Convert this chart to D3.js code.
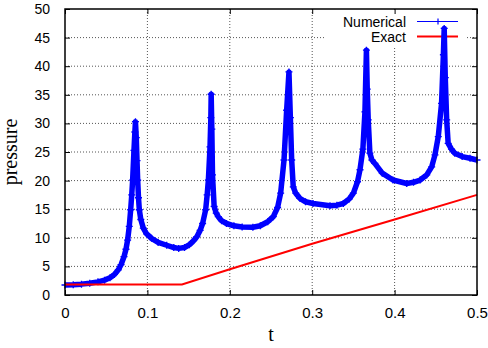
<!DOCTYPE html>
<html><head><meta charset="utf-8">
<script src="https://cdn.jsdelivr.net/npm/d3@7"></script>
<style>body{margin:0;background:#fff}svg{display:block}</style>
</head><body><svg id="c" width="488" height="348"></svg>
<script>
const numT = [0,0.01,0.02,0.03,0.04,0.048,0.0546,0.06,0.0647,0.068,0.0716,0.074,0.076,0.078,0.0797,0.081,0.0821,0.0837,0.0848,0.0855,0.0865,0.0874,0.0882,0.0892,0.0902,0.092,0.095,0.099,0.105,0.113,0.1234,0.132,0.138,0.145,0.151,0.156,0.160,0.164,0.167,0.1707,0.1725,0.174,0.176,0.177,0.1774,0.1782,0.1790,0.1810,0.1835,0.186,0.190,0.196,0.205,0.215,0.228,0.237,0.246,0.2528,0.258,0.2617,0.2658,0.269,0.2718,0.2735,0.2751,0.277,0.280,0.285,0.292,0.301,0.3216,0.330,0.3378,0.345,0.35,0.355,0.358,0.3615,0.364,0.3658,0.3668,0.368,0.370,0.3725,0.376,0.385,0.398,0.4147,0.423,0.431,0.439,0.445,0.449,0.453,0.457,0.4592,0.4602,0.4615,0.4632,0.465,0.469,0.473,0.482,0.4915,0.5];
const numP = [1.75,1.8,1.9,2.05,2.3,2.6,3.0,3.6,4.4,5.3,6.7,8.0,9.6,12,14.9,17.5,20.1,25.3,28.5,30.3,27.5,23.5,20.1,17.0,14.9,13.2,11.7,10.7,9.9,9.2,8.7,8.3,8.15,8.3,8.8,9.5,10.2,11.3,12.5,14.9,17.5,20.1,25.9,31,35.1,29,21,15.5,14.3,13.7,13.0,12.5,12.1,11.9,11.85,12.1,12.8,13.7,15.3,17.8,23.6,32.3,39.0,31,23.6,18.9,17.8,16.9,16.3,16.0,15.6,15.7,16.0,16.8,17.8,19.8,21.9,25.5,32,42.8,36,30.6,24.8,23.6,23.0,21.3,20.1,19.5,19.7,20.1,21.0,22.4,24.5,27.7,33.5,42,46.6,38,30.6,26.5,25.5,24.8,24.2,23.9,23.6];
const exT = [0,0.142,0.2,0.3,0.4,0.5];
const exP = [1.85,1.85,4.5,8.95,13.2,17.5];
const xTicks = [0,0.1,0.2,0.3,0.4,0.5];
const xTickLabels = ["0","0.1","0.2","0.3","0.4","0.5"];
const yTicks = [0,5,10,15,20,25,30,35,40,45,50];
const seriesNames = ["Numerical","Exact"];

const svg = d3.select("#c");
const L=65, R=477, T=9, B=295;
const x = d3.scaleLinear().domain([0,0.5]).range([L,R]);
const y = d3.scaleLinear().domain([0,50]).range([B,T]);

// grid
const g = svg.append("g");
g.selectAll(".gx").data(xTicks.slice(1,-1)).enter().append("line")
 .attr("x1",d=>x(d)).attr("x2",d=>x(d)).attr("y1",T).attr("y2",B)
 .attr("stroke","#555").attr("stroke-dasharray","1,2").attr("stroke-width",1);
g.selectAll(".gy").data(yTicks.slice(1,-1)).enter().append("line")
 .attr("x1",L).attr("x2",R).attr("y1",d=>y(d)).attr("y2",d=>y(d))
 .attr("stroke","#555").attr("stroke-dasharray","1,2").attr("stroke-width",1);

// legend background
svg.append("rect").attr("x",324).attr("y",10).attr("width",142).attr("height",36).attr("fill","#fff");

// axes via d3 axis (inward ticks)
const fontSans = "Liberation Sans, Arial, sans-serif";
const ax = svg.append("g").attr("transform",`translate(0,${B})`)
  .call(d3.axisBottom(x).tickValues(xTicks).tickFormat((d,i)=>xTickLabels[i]).tickSizeInner(-5).tickSizeOuter(0).tickPadding(12));
ax.select(".domain").remove();
ax.selectAll("text").attr("font-family",fontSans).attr("font-size",15).attr("fill","#000");
ax.selectAll("line").attr("stroke","#000");
const axT = svg.append("g").attr("transform",`translate(0,${T})`)
  .call(d3.axisTop(x).tickValues(xTicks).tickFormat("").tickSizeInner(-5).tickSizeOuter(0));
axT.select(".domain").remove();
const ay = svg.append("g").attr("transform",`translate(${L},0)`)
  .call(d3.axisLeft(y).tickValues(yTicks).tickSizeInner(-5).tickSizeOuter(0).tickPadding(15));
ay.select(".domain").remove();
ay.selectAll("text").attr("font-family",fontSans).attr("font-size",14).attr("fill","#000");
const ayR = svg.append("g").attr("transform",`translate(${R},0)`)
  .call(d3.axisRight(y).tickValues(yTicks).tickFormat("").tickSizeInner(-5).tickSizeOuter(0));
ayR.select(".domain").remove();

// legend
const lg = svg.append("g").attr("font-family",fontSans).attr("font-size",14);
lg.append("text").attr("x",406).attr("y",26.5).attr("text-anchor","end").text(seriesNames[0]);
lg.append("text").attr("x",406).attr("y",41.5).attr("text-anchor","end").text(seriesNames[1]);
lg.append("line").attr("x1",417).attr("x2",458).attr("y1",21.5).attr("y2",21.5).attr("stroke","#0000ff").attr("stroke-width",1);
lg.append("path").attr("d","M438,18.5V24.5M435,21.5H441").attr("stroke","#0000ff").attr("stroke-width",1.2);
lg.append("line").attr("x1",417).attr("x2",458).attr("y1",36.5).attr("y2",36.5).attr("stroke","#ff0000").attr("stroke-width",2);

// numerical
const numData = numT.map((t,i)=>[t,numP[i]]);
const line = d3.line().x(d=>x(d[0])).y(d=>y(d[1]));
svg.append("path").datum(numData).attr("d",line).attr("fill","none")
 .attr("stroke","#0000ff").attr("stroke-width",5.5).attr("stroke-linejoin","round");
svg.append("g").selectAll("path").data(numData).enter().append("path")
 .attr("d",d=>`M${x(d[0])-3.5},${y(d[1])}H${x(d[0])+3.5}M${x(d[0])},${y(d[1])-3.5}V${y(d[1])+3.5}`)
 .attr("stroke","#0000ff").attr("stroke-width",1.3);

// exact
const exData = exT.map((t,i)=>[t,exP[i]]);
svg.append("path").datum(exData).attr("d",line).attr("fill","none")
 .attr("stroke","#ff0000").attr("stroke-width",2);

// frame
svg.append("rect").attr("x",L).attr("y",T).attr("width",R-L).attr("height",B-T)
 .attr("fill","none").attr("stroke","#000").attr("stroke-width",1.5);

// axis titles
svg.append("text").attr("x",271).attr("y",341).attr("text-anchor","middle")
 .attr("font-family","Liberation Serif, Times New Roman, serif").attr("font-size",20).text("t");
svg.append("text").attr("transform","translate(17,152) rotate(-90)").attr("text-anchor","middle")
 .attr("font-family","Liberation Serif, Times New Roman, serif").attr("font-size",20).text("pressure");
</script></body></html>
